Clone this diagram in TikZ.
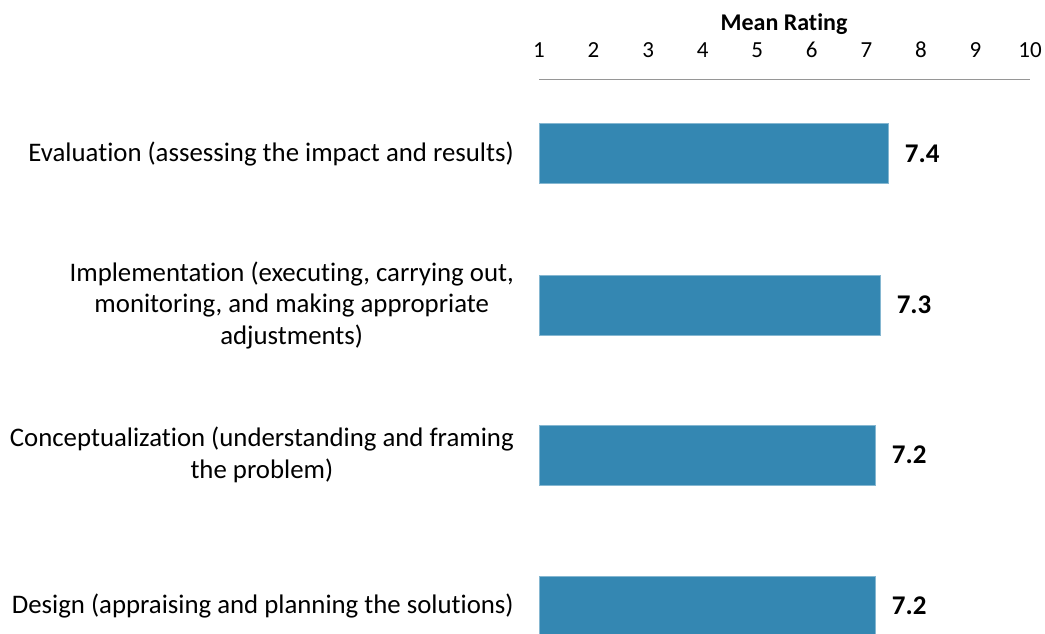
\documentclass[tikz,border=0pt]{standalone}
\usepackage{fontspec}
\setmainfont{Carlito}[Ligatures=NoCommon]
\usetikzlibrary{positioning}
\definecolor{barblue}{RGB}{52,135,178}
\definecolor{axisgray}{RGB}{150,150,150}
\tikzset{bar/.style={draw=barblue!60!white,line width=0.6pt,fill=barblue,minimum height=60pt,inner sep=0pt,anchor=west}}
\tikzset{catlabel/.style={align=center,font=\fontsize{26.8}{31.5}\selectfont,inner sep=0pt}}
\tikzset{value/.style={font=\fontsize{27}{30}\selectfont\bfseries,inner sep=0pt}}
\tikzset{tick/.style={font=\fontsize{23}{26}\selectfont,inner sep=0pt}}

\begin{document}
\begin{tikzpicture}[x=1pt,y=-1pt]
        \useasboundingbox (0,0) rectangle (1045,633);
        % axis on top
        \foreach \v in {1,...,10}
            \node[tick] (t\v) at ({539+(\v-1)*54.56},50) {\v};
        \node[tick,font=\fontsize{24}{26}\selectfont\bfseries] (title) at (784,24) {Mean Rating};
        \coordinate (axl) at (539,79);
        \coordinate (axr) at (1030,79);
        \draw[axisgray,line width=0.8pt] (axl) -- (axr);
        % bars
        \node[bar,minimum width={6.4*54.56}] (eval) at (539,153.5) {};
            \node[value,right=16pt of eval] (veval) {7.4};
            \node[catlabel,left=25pt of eval] (leval) {Evaluation (assessing the impact and results)};
        \node[bar,minimum width={6.25*54.56}] (impl) at (539,305) {};
            \node[value,right=16pt of impl] (vimpl) {7.3};
            \node[catlabel,left=25pt of impl] (limpl) {Implementation (executing, carrying out,\\monitoring, and making appropriate\\adjustments)};
        \node[bar,minimum width={6.16*54.56}] (conc) at (539,455) {};
            \node[value,right=16pt of conc] (vconc) {7.2};
            \node[catlabel,left=25pt of conc] (lconc) {Conceptualization (understanding and framing\\the problem)};
        \node[bar,minimum width={6.16*54.56}] (desi) at (539,606) {};
            \node[value,right=16pt of desi] (vdesi) {7.2};
            \node[catlabel,left=25pt of desi] (ldesi) {Design (appraising and planning the solutions)};
    \end{tikzpicture}
\end{document}
